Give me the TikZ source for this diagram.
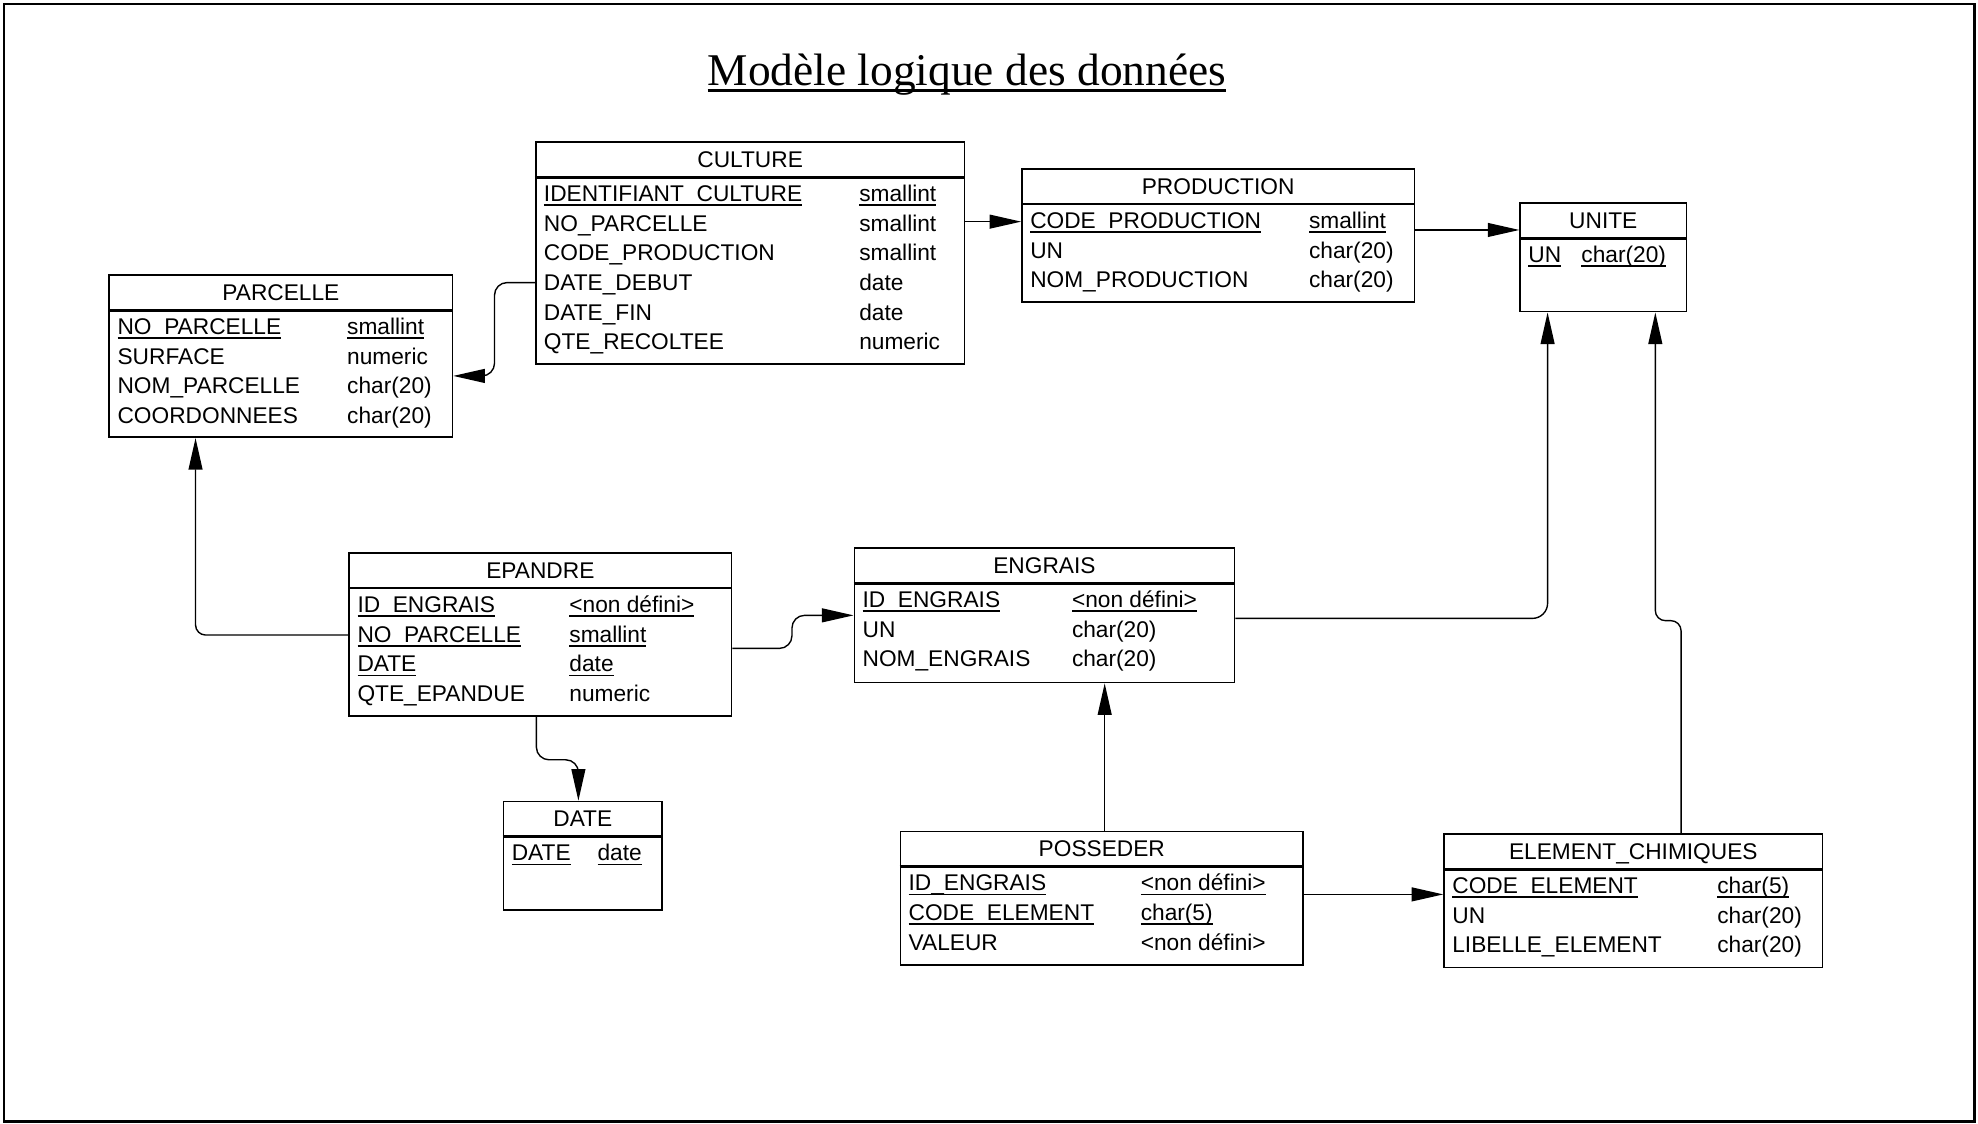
\documentclass[tikz,border=0pt]{standalone}
\usepackage{fontspec}
\setmainfont{Liberation Serif}
\setsansfont{Liberation Sans}
\usetikzlibrary{arrows.meta}
\newcommand{\pk}[1]{\setbox0=\hbox{#1}\rlap{\rule[-3.5pt]{\wd0}{1.2pt}}\box0}

\begin{document}
\begin{tikzpicture}[x=1pt,y=-1pt,>={Triangle[length=25pt,width=11pt]},
                    link/.style={->,line width=1.1pt},
                    tbl/.style={draw,line width=1.3pt,anchor=north west},
                    ttl/.style={font=\sffamily\fontsize{18}{20}\selectfont,anchor=base},
                    fld/.style={font=\sffamily\fontsize{18}{20}\selectfont,anchor=base west}]
  \tikzstyle{every node}=[inner sep=0pt]
  \useasboundingbox (0,0) rectangle (1568,891);
  \draw[line width=2pt] (3,3) rectangle (1565,889);

  \node[font=\fontsize{36}{40}\selectfont,anchor=base] (titre) at (766.5,67.4) {Modèle logique des données};
  \draw[line width=2pt] ([yshift=-4.5pt]titre.base west) -- ([yshift=-4.5pt]titre.base east);

  % tables
  \foreach \n/\x/\y/\w/\h/\lab in {parcelle/86/217.5/272/128.5/PARCELLE,
      culture/424/112/340/176/CULTURE, production/809.5/133.4/311/105.6/PRODUCTION,
      unite/1204.4/160.4/131.8/86/UNITE, epandre/276.2/437.8/303/129/EPANDRE,
      engrais/676.6/433.9/301.4/106.5/ENGRAIS, date/398.5/634.7/125.7/86/DATE,
      posseder/713.1/658.5/319.3/105.7/POSSEDER, element/1144.1/660.6/300/105.7/ELEMENT\_CHIMIQUES}
  {
    \node[tbl,minimum width=\w pt,minimum height=\h pt] (\n) at (\x,\y) {};
    \draw[line width=2pt] ([yshift=-28.5pt]\n.north west) -- ([yshift=-28.5pt]\n.north east);
    \node[ttl] (\n-t) at ([yshift=-20.7pt]\n.north) {\lab};
  }

  \foreach \a/\b [count=\i] in {\pk{NO\_PARCELLE}/\pk{smallint}, SURFACE/numeric,
      NOM\_PARCELLE/char(20), COORDONNEES/char(20)}
  {\node[fld] (parcelle-a\i) at ([shift={(7,24.2+23.5*\i)}]parcelle.north west) {\a};
   \node[fld] (parcelle-b\i) at ([shift={(189,24.2+23.5*\i)}]parcelle.north west) {\b};}

  \foreach \a/\b [count=\i] in {\pk{IDENTIFIANT\_CULTURE}/\pk{smallint}, NO\_PARCELLE/smallint,
      CODE\_PRODUCTION/smallint, DATE\_DEBUT/date, DATE\_FIN/date, QTE\_RECOLTEE/numeric}
  {\node[fld] (culture-a\i) at ([shift={(7,24.2+23.5*\i)}]culture.north west) {\a};
   \node[fld] (culture-b\i) at ([shift={(257,24.2+23.5*\i)}]culture.north west) {\b};}

  \foreach \a/\b [count=\i] in {\pk{CODE\_PRODUCTION}/\pk{smallint}, UN/char(20),
      NOM\_PRODUCTION/char(20)}
  {\node[fld] (production-a\i) at ([shift={(7,24.2+23.5*\i)}]production.north west) {\a};
   \node[fld] (production-b\i) at ([shift={(228,24.2+23.5*\i)}]production.north west) {\b};}

  \foreach \a/\b [count=\i] in {\pk{UN}/\pk{char(20)}}
  {\node[fld] (unite-a\i) at ([shift={(7,24.2+23.5*\i)}]unite.north west) {\a};
   \node[fld] (unite-b\i) at ([shift={(49,24.2+23.5*\i)}]unite.north west) {\b};}

  \foreach \a/\b [count=\i] in {\pk{ID\_ENGRAIS}/\pk{<non défini>}, \pk{NO\_PARCELLE}/\pk{smallint},
      \pk{DATE}/\pk{date}, QTE\_EPANDUE/numeric}
  {\node[fld] (epandre-a\i) at ([shift={(7,24.2+23.5*\i)}]epandre.north west) {\a};
   \node[fld] (epandre-b\i) at ([shift={(175,24.2+23.5*\i)}]epandre.north west) {\b};}

  \foreach \a/\b [count=\i] in {\pk{ID\_ENGRAIS}/\pk{<non défini>}, UN/char(20),
      NOM\_ENGRAIS/char(20)}
  {\node[fld] (engrais-a\i) at ([shift={(7,24.2+23.5*\i)}]engrais.north west) {\a};
   \node[fld] (engrais-b\i) at ([shift={(173,24.2+23.5*\i)}]engrais.north west) {\b};}

  \foreach \a/\b [count=\i] in {\pk{DATE}/\pk{date}}
  {\node[fld] (date-a\i) at ([shift={(7,24.2+23.5*\i)}]date.north west) {\a};
   \node[fld] (date-b\i) at ([shift={(75,24.2+23.5*\i)}]date.north west) {\b};}

  \foreach \a/\b [count=\i] in {\pk{ID\_ENGRAIS}/\pk{<non défini>}, \pk{CODE\_ELEMENT}/\pk{char(5)},
      VALEUR/<non défini>}
  {\node[fld] (posseder-a\i) at ([shift={(7,24.2+23.5*\i)}]posseder.north west) {\a};
   \node[fld] (posseder-b\i) at ([shift={(191,24.2+23.5*\i)}]posseder.north west) {\b};}

  \foreach \a/\b [count=\i] in {\pk{CODE\_ELEMENT}/\pk{char(5)}, UN/char(20),
      LIBELLE\_ELEMENT/char(20)}
  {\node[fld] (element-a\i) at ([shift={(7,24.2+23.5*\i)}]element.north west) {\a};
   \node[fld] (element-b\i) at ([shift={(217,24.2+23.5*\i)}]element.north west) {\b};}

  % references
  \draw[link,rounded corners=10pt] ([yshift=-112pt]culture.north west) -- ++(-32,0) -- ++(0,74)
        -- ([yshift=-80.5pt]parcelle.north east);
  \draw[link] ([yshift=-63.7pt]culture.north east) -- ([yshift=-42.3pt]production.north west);
  \draw[link] ([yshift=-48.9pt]production.north east) -- ([yshift=-21.9pt]unite.north west);
  \draw[link,rounded corners=8pt] ([yshift=-65.6pt]epandre.north west) -| ([xshift=69pt]parcelle.south west);
  \draw[link,rounded corners=10pt] ([xshift=149pt]epandre.south west) -- ++(0,34.2)
        -| ([xshift=60pt]date.north west);
  \draw[link,rounded corners=10pt] ([yshift=-76.2pt]epandre.north east) -- ++(47.3,0)
        |- ([yshift=-53.9pt]engrais.north west);
  \draw[link,rounded corners=12pt] ([yshift=-56.3pt]engrais.north east) -| ([xshift=22.4pt]unite.south west);
  \draw[link] ([xshift=162.6pt]posseder.north west) -- ([xshift=199.1pt]engrais.south west);
  \draw[link] ([yshift=-50.5pt]posseder.north east) -- ([yshift=-48.4pt]element.north west);
  \draw[link,rounded corners=8pt] ([xshift=188.5pt]element.north west) -- ++(0,-168.6)
        -| ([xshift=107.8pt]unite.south west);
\end{tikzpicture}
\end{document}
